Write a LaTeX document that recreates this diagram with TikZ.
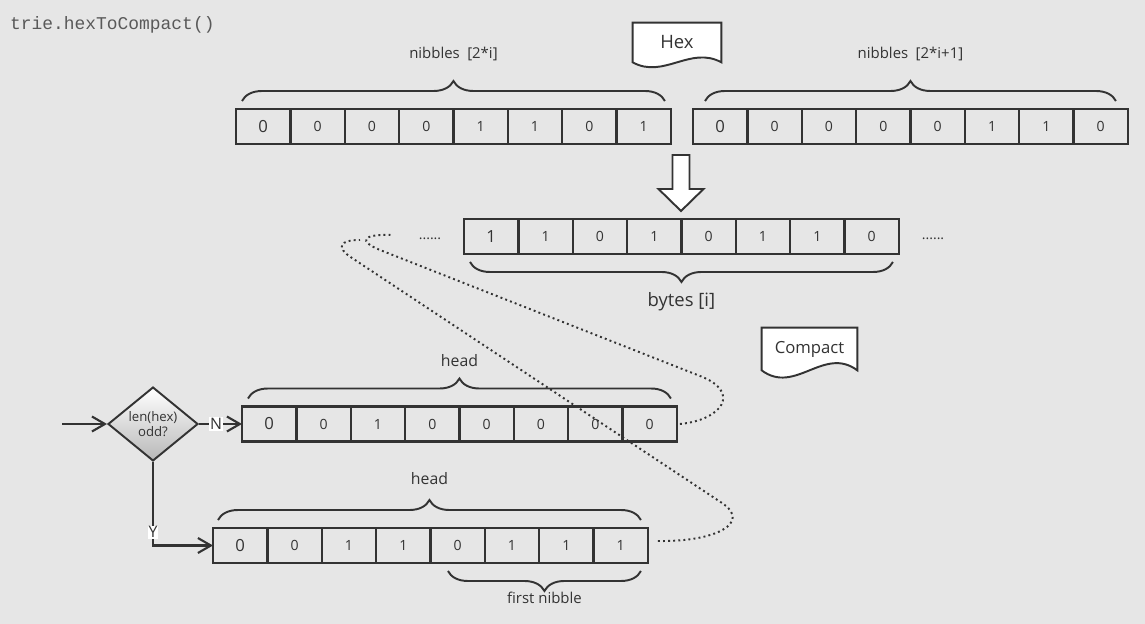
\documentclass[tikz,border=0pt]{standalone}
\usepackage{fontspec}
\setmainfont{Open Sans}
\newfontfamily\codefont{Liberation Mono}
\usetikzlibrary{shapes.geometric,decorations.pathreplacing,arrows.meta,positioning}
\pgfdeclarelayer{back}
\pgfdeclarelayer{mid}
\pgfsetlayers{back,mid,main}
\definecolor{bgcol}{HTML}{E6E6E6}
\definecolor{ink}{HTML}{333333}

\begin{document}
\begin{tikzpicture}[
  x=0.02cm, y=-0.02cm,
  cell/.style={rectangle, draw=ink, line width=1.3pt, minimum width=1.0875cm, minimum height=0.7cm, inner sep=0pt, outer sep=0pt, font=\fontsize{8}{9}\selectfont, text=ink},
  firstcell/.style={cell, font=\fontsize{9.5}{10}\selectfont},
  brace/.style={draw=ink, line width=1.1pt, decorate, decoration={brace, amplitude=0.4cm}},
  doc/.style={rectangle, inner sep=0pt, text=ink},
  docline/.style={draw=ink, line width=1.1pt, fill=white},
  decision/.style={diamond, draw=ink, line width=1.1pt, top color=white, bottom color=black!28, minimum width=1.8cm, minimum height=1.4cm, inner sep=0pt, align=center, font=\fontsize{7.5}{8.5}\selectfont, text=ink},
  link/.style={draw=ink, line width=1.2pt, -{Straight Barb[length=0.26cm, width=0.3cm]}},
  trace/.style={draw=ink, line width=1.1pt, dash pattern=on 1.1pt off 1.8pt},
  lbl/.style={font=\fontsize{8.5}{10}\selectfont, text=ink},
  yn/.style={fill=white, inner sep=0.5pt, font=\fontsize{9}{10}\selectfont, text=ink}
]
\begin{pgfonlayer}{back}
  \fill[bgcol] (0,0) rectangle (1145,624);
\end{pgfonlayer}

% Call
\node[anchor=west, font=\codefont\fontsize{10.2}{12}\selectfont, text=black!65] (call) at (4,25) {trie.hexToCompact()};

% Hex nibbles
\node[firstcell, anchor=west] (nibA1) at (236,126.5) {0};
\foreach \v [count=\i from 2, evaluate=\i as \j using int(\i-1)] in {0,0,0,1,1,0,1}
  \node[cell, right=0pt of nibA\j] (nibA\i) {\v};
\node[firstcell, anchor=west] (nibB1) at (693,126.5) {0};
\foreach \v [count=\i from 2, evaluate=\i as \j using int(\i-1)] in {0,0,0,0,1,1,0}
  \node[cell, right=0pt of nibB\j] (nibB\i) {\v};
\draw[brace] ([xshift=0.12cm, yshift=0.16cm]nibA1.north west) -- ([xshift=-0.12cm, yshift=0.16cm]nibA8.north east)
  node[lbl, midway, yshift=0.94cm] {nibbles\enspace[2*i]};
\draw[brace] ([xshift=0.24cm, yshift=0.16cm]nibB1.north west) -- ([xshift=-0.24cm, yshift=0.16cm]nibB8.north east)
  node[lbl, midway, yshift=0.94cm] {nibbles\enspace[2*i+1]};

\node[doc, minimum width=1.76cm, minimum height=0.78cm, font=\fontsize{10.5}{12}\selectfont] (hex) at (677,42.5) {Hex};

% Conversion
\draw[draw=ink, line width=1.1pt, fill=white] (672.5,155) -- (689.5,155) -- (689.5,189) -- (703.5,189) -- (681,211) -- (658.5,189) -- (672.5,189) -- cycle;

% Bytes
\node[firstcell, anchor=west] (byte1) at (464,236.5) {1};
\foreach \v [count=\i from 2, evaluate=\i as \j using int(\i-1)] in {1,0,1,0,1,1,0}
  \node[cell, right=0pt of byte\j] (byte\i) {\v};
\node[font=\fontsize{8}{9}\selectfont, text=ink] (moreL) at (430,239) {......};
\node[font=\fontsize{8}{9}\selectfont, text=ink] (moreR) at (933,239) {......};
\draw[brace] ([xshift=-0.12cm, yshift=-0.16cm]byte8.south east) -- ([xshift=0.12cm, yshift=-0.16cm]byte1.south west)
  node[lbl, midway, yshift=-0.8cm, font=\fontsize{10.5}{12}\selectfont] {bytes [i]};

\node[doc, minimum width=1.9cm, minimum height=0.84cm, font=\fontsize{9.5}{11}\selectfont] (compact) at (809.5,349) {Compact};

% Decision
\node[decision] (len) at (153,424) {len(hex)\\odd?};
\coordinate (entry) at (62,424);

% Even length
\node[firstcell, anchor=west] (head1) at (242,424) {0};
\foreach \v [count=\i from 2, evaluate=\i as \j using int(\i-1)] in {0,1,0,0,0,0,0}
  \node[cell, right=0pt of head\j] (head\i) {\v};
\draw[brace] ([xshift=0.12cm, yshift=0.16cm]head1.north west) -- ([xshift=-0.12cm, yshift=0.16cm]head8.north east)
  node[lbl, midway, yshift=0.76cm, font=\fontsize{9}{10}\selectfont] {head};

% Odd length
\node[firstcell, anchor=west] (odd1) at (213,545.5) {0};
\foreach \v [count=\i from 2, evaluate=\i as \j using int(\i-1)] in {0,1,1,0,1,1,1}
  \node[cell, right=0pt of odd\j] (odd\i) {\v};
\draw[brace] ([xshift=0.1cm, yshift=0.16cm]odd1.north west) -- ([xshift=-0.14cm, yshift=0.16cm]odd8.north east)
  node[lbl, midway, yshift=0.82cm, font=\fontsize{9}{10}\selectfont] {head};
\draw[brace] ([xshift=-0.14cm, yshift=-0.16cm]odd8.south east) -- ([xshift=0.35cm, yshift=-0.16cm]odd5.south west)
  node[lbl, midway, yshift=-0.54cm] {first nibble};

% Connections
\draw[link] (entry) -- (len.west);
\draw[link] (len.east) -- (head1.west) node[yn, pos=0.4] {N};
\draw[link] (len) |- (odd1.west) node[yn, pos=0.42] {Y};

\coordinate (loopA) at (392,235);
\coordinate (loopB) at (360,240);
\draw[trace] ([xshift=0.06cm]head8.east) .. controls (722,420) and (742,392) .. (700,376) -- (380,250) .. controls (358,241) and (362,234) .. (loopA);
\draw[trace] ([xshift=0.2cm, yshift=0.09cm]odd8.east) .. controls (715,542) and (752,523) .. (722,503) -- (352,258) .. controls (335,247) and (340,240) .. (loopB);

\begin{pgfonlayer}{mid}
  \draw[docline] (hex.north west) -- (hex.north east) -- (hex.south east) .. controls +(-0.62cm,0.34cm) and +(0.62cm,-0.34cm) .. (hex.south west) -- cycle;
  \draw[docline] (compact.north west) -- (compact.north east) -- (compact.south east) .. controls +(-0.67cm,0.5cm) and +(0.67cm,-0.5cm) .. (compact.south west) -- cycle;
\end{pgfonlayer}
\end{tikzpicture}
\end{document}
